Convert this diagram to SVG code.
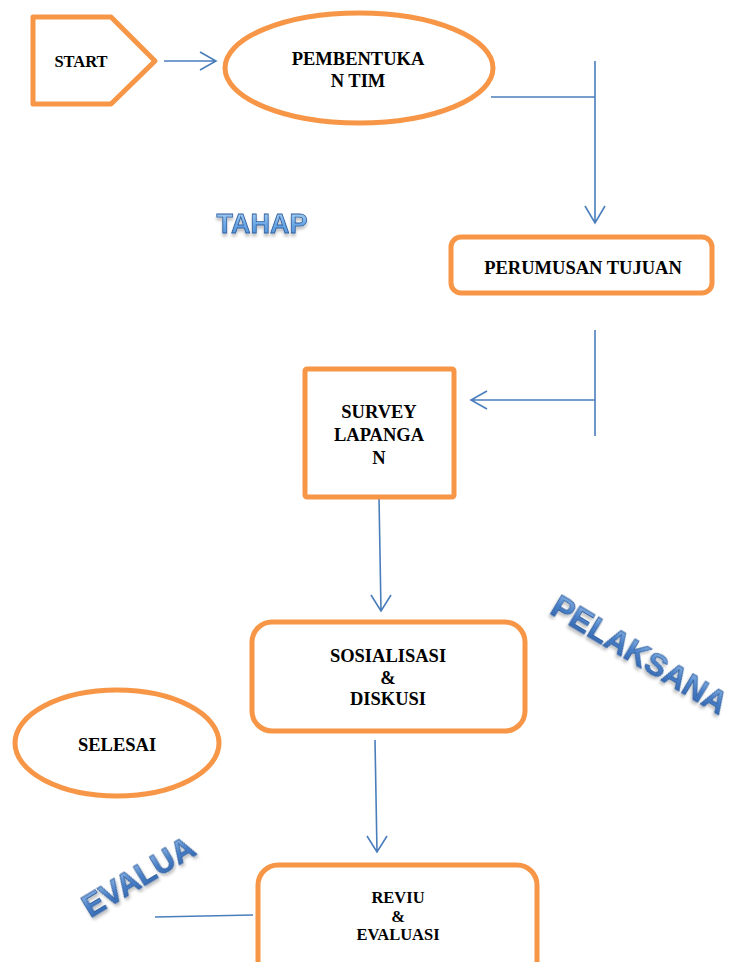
<svg xmlns="http://www.w3.org/2000/svg" width="733" height="962" viewBox="0 0 733 962">
<defs>
<style>
.node{fill:#fff;stroke:#F79646;stroke-width:5}
.lbl{font-family:"Liberation Serif","Times New Roman",serif;font-weight:bold;fill:#000;text-anchor:middle}
.con{fill:none;stroke:#4A7EBB;stroke-width:1.6}
.wa{font-family:"Liberation Sans",Arial,sans-serif;font-weight:bold;stroke:#2F5F9E;stroke-width:0.8;text-anchor:middle}
</style>
<linearGradient id="gLight" x1="0" y1="0" x2="0" y2="1">
<stop offset="0" stop-color="#B9DBF7"/>
<stop offset="0.5" stop-color="#6AA8E6"/>
<stop offset="1" stop-color="#4F8FD6"/>
</linearGradient>
<linearGradient id="gDark" x1="0" y1="0" x2="0" y2="1">
<stop offset="0" stop-color="#9CC3EC"/>
<stop offset="0.5" stop-color="#4A80C8"/>
<stop offset="1" stop-color="#2E62AA"/>
</linearGradient>
<filter id="sh" x="-20%" y="-20%" width="140%" height="160%">
<feGaussianBlur in="SourceAlpha" stdDeviation="1.5"/>
<feOffset dx="0" dy="3" result="b"/>
<feComponentTransfer><feFuncA type="linear" slope="0.25"/></feComponentTransfer>
<feMerge><feMergeNode/><feMergeNode in="SourceGraphic"/></feMerge>
</filter>
</defs>
<rect width="733" height="962" fill="#fff"/>

<g id="connectors">
<path class="con" d="M164 61 H216 M200 52 L216 61 L200 70"/>
<path class="con" d="M491 97 H595 M595 61 V223 M585 206 L595 223 L605 206"/>
<path class="con" d="M595 330 V436 M595 400 H471 M487 391 L471 400 L487 409"/>
<path class="con" d="M379 497 L381 611 M371 595 L381 611 L391 595"/>
<path class="con" d="M375 740 L377 852 M367 836 L377 852 L387 836"/>
<path class="con" d="M155 917 L253 915"/>
</g>

<g id="start">
<polygon class="node" points="33,17 111,17 155,61 111,104 33,104" stroke-linejoin="round"/>
<text class="lbl" x="81" y="67" font-size="16.5">START</text>
</g>

<g id="pembentukan">
<ellipse class="node" cx="359" cy="68" rx="134" ry="55"/>
<text class="lbl" x="358" y="65" font-size="18.5">PEMBENTUKA</text>
<text class="lbl" x="358" y="87" font-size="18.5">N TIM</text>
</g>

<g id="perumusan">
<rect class="node" x="451" y="237" width="261" height="56" rx="10"/>
<text class="lbl" x="583" y="274" font-size="18.5">PERUMUSAN TUJUAN</text>
</g>

<g id="survey">
<rect class="node" x="305" y="369" width="149" height="128" rx="2"/>
<text class="lbl" x="379" y="418" font-size="18.5">SURVEY</text>
<text class="lbl" x="379" y="441" font-size="18.5">LAPANGA</text>
<text class="lbl" x="379" y="464" font-size="18.5">N</text>
</g>

<g id="sosialisasi">
<rect class="node" x="252" y="622" width="273" height="109" rx="20"/>
<text class="lbl" x="388" y="662" font-size="18.5">SOSIALISASI</text>
<text class="lbl" x="388" y="684" font-size="18.5">&amp;</text>
<text class="lbl" x="388" y="705" font-size="18.5">DISKUSI</text>
</g>

<g id="selesai">
<ellipse class="node" cx="117" cy="743" rx="102" ry="53"/>
<text class="lbl" x="117" y="751" font-size="18.5">SELESAI</text>
</g>

<g id="reviu">
<rect class="node" x="258" y="865" width="279" height="120" rx="20"/>
<text class="lbl" x="398" y="903" font-size="16.5">REVIU</text>
<text class="lbl" x="398" y="922" font-size="16.5">&amp;</text>
<text class="lbl" x="398" y="940" font-size="16.5">EVALUASI</text>
</g>

<g id="wordart">
<text class="wa" x="262" y="233" font-size="27" fill="url(#gLight)" filter="url(#sh)">TAHAP</text>
<text class="wa" transform="translate(634,664) rotate(31)" x="0" y="0" font-size="32" fill="url(#gDark)" filter="url(#sh)">PELAKSANA</text>
<text class="wa" transform="translate(144,886) rotate(-31)" x="0" y="0" font-size="31" fill="url(#gDark)" filter="url(#sh)">EVALUA</text>
</g>
</svg>
